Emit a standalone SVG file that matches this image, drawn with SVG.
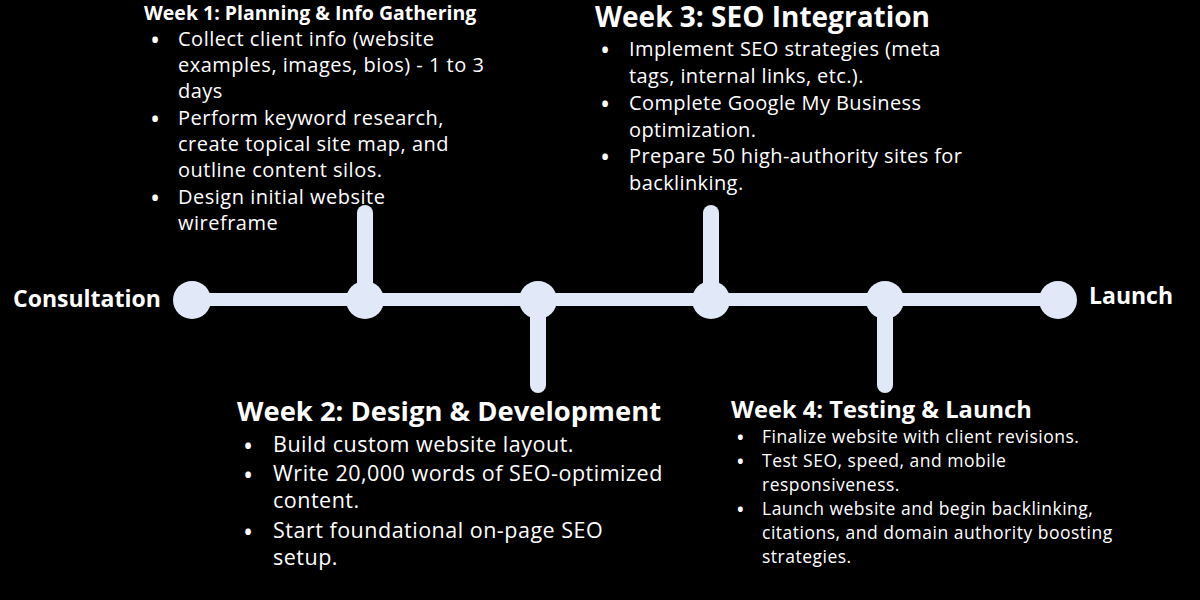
<svg xmlns="http://www.w3.org/2000/svg" width="1200" height="600" viewBox="0 0 1200 600">
<style>
.t{font-family:"Open Sans","Noto Sans","Liberation Sans",sans-serif;fill:#ffffff}
.b{font-weight:700}
.bar{stroke:#E1E9F8;stroke-linecap:round;fill:none}
.dot{fill:#E1E9F8}
.w1{font-size:20px;letter-spacing:0.5px}
.w2{font-size:21.5px;letter-spacing:0.5px}
.w3{font-size:20px;letter-spacing:0.4px}
.w4{font-size:17.5px;letter-spacing:0.5px}
.bl{font-size:27px;letter-spacing:0}
.bs{font-size:23px;letter-spacing:0}
</style>
<rect width="1200" height="600" fill="#000000"/>
<g id="connectors">
<line class="bar" x1="192" y1="299.5" x2="1058" y2="299.5" stroke-width="13"/>
<line class="bar" x1="365" y1="213" x2="365" y2="299" stroke-width="16"/>
<line class="bar" x1="538" y1="300" x2="538" y2="385" stroke-width="16"/>
<line class="bar" x1="711" y1="213" x2="711" y2="299" stroke-width="16"/>
<line class="bar" x1="885" y1="300" x2="885" y2="385" stroke-width="16"/>
</g>
<g id="consultation">
<circle class="dot" cx="192" cy="300" r="19"/>
<text class="t b" x="13" y="307" font-size="23">Consultation</text>
</g>
<g id="node-week1">
<circle class="dot" cx="365" cy="300" r="19"/>
<text class="t b" x="144" y="20" font-size="19.5">Week 1: Planning &amp; Info Gathering</text>
<g class="t w1">
<text x="150" y="46"><tspan class="bl" dy="4">•</tspan><tspan x="178" dy="-4">Collect client info (website</tspan></text>
<text x="178" y="72">examples, images, bios) - 1 to 3</text>
<text x="178" y="98">days</text>
<text x="150" y="125"><tspan class="bl" dy="4">•</tspan><tspan x="178" dy="-4">Perform keyword research,</tspan></text>
<text x="178" y="151">create topical site map, and</text>
<text x="178" y="177">outline content silos.</text>
<text x="150" y="204"><tspan class="bl" dy="4">•</tspan><tspan x="178" dy="-4">Design initial website</tspan></text>
<text x="178" y="230">wireframe</text>
</g>
</g>
<g id="node-week2">
<circle class="dot" cx="538" cy="300" r="19"/>
<text class="t b" x="237" y="421" font-size="27.4">Week 2: Design &amp; Development</text>
<g class="t w2">
<text x="243" y="452"><tspan class="bl" dy="4">•</tspan><tspan x="273" dy="-4">Build custom website layout.</tspan></text>
<text x="243" y="481"><tspan class="bl" dy="4">•</tspan><tspan x="273" dy="-4">Write 20,000 words of SEO-optimized</tspan></text>
<text x="273" y="508">content.</text>
<text x="243" y="538"><tspan class="bl" dy="4">•</tspan><tspan x="273" dy="-4">Start foundational on-page SEO</tspan></text>
<text x="273" y="565">setup.</text>
</g>
</g>
<g id="node-week3">
<circle class="dot" cx="711" cy="300" r="19"/>
<text class="t b" x="595" y="27" font-size="28">Week 3: SEO Integration</text>
<g class="t w3">
<text x="600" y="56"><tspan class="bl" dy="4">•</tspan><tspan x="629" dy="-4">Implement SEO strategies (meta</tspan></text>
<text x="629" y="83">tags, internal links, etc.).</text>
<text x="600" y="110"><tspan class="bl" dy="4">•</tspan><tspan x="629" dy="-4">Complete Google My Business</tspan></text>
<text x="629" y="137">optimization.</text>
<text x="600" y="163"><tspan class="bl" dy="4">•</tspan><tspan x="629" dy="-4">Prepare 50 high-authority sites for</tspan></text>
<text x="629" y="190">backlinking.</text>
</g>
</g>
<g id="node-week4">
<circle class="dot" cx="885" cy="300" r="19"/>
<text class="t b" x="731" y="418" font-size="23.7">Week 4: Testing &amp; Launch</text>
<g class="t w4">
<text x="736" y="443"><tspan class="bs" dy="3">•</tspan><tspan x="762" dy="-3">Finalize website with client revisions.</tspan></text>
<text x="736" y="467"><tspan class="bs" dy="3">•</tspan><tspan x="762" dy="-3">Test SEO, speed, and mobile</tspan></text>
<text x="762" y="491">responsiveness.</text>
<text x="736" y="515"><tspan class="bs" dy="3">•</tspan><tspan x="762" dy="-3">Launch website and begin backlinking,</tspan></text>
<text x="762" y="539">citations, and domain authority boosting</text>
<text x="762" y="563">strategies.</text>
</g>
</g>
<g id="launch">
<circle class="dot" cx="1058" cy="300" r="19"/>
<text class="t b" x="1089" y="304" font-size="23">Launch</text>
</g>
</svg>
